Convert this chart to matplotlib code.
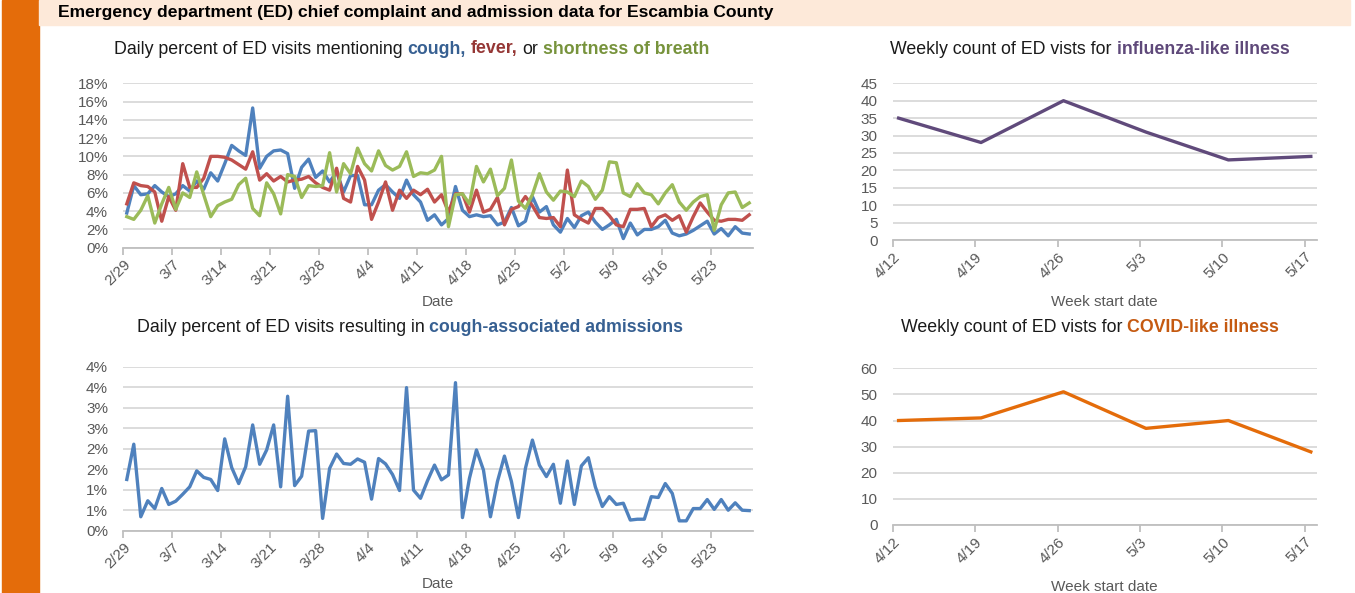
import matplotlib
matplotlib.use("Agg")
import matplotlib.pyplot as plt
from matplotlib.patches import Rectangle

W, H = 1355, 593

# daily series, 2/29 through 5/28 (percent of ED visits)
cough = [3.8, 6.8, 5.8, 5.9, 6.8, 6.1, 5.6, 5.9, 6.8, 6.2,
         7.3, 6.4, 8.2, 7.3, 9.2, 11.2, 10.6, 10.1, 15.3, 8.7,
         10.0, 10.6, 10.7, 10.3, 6.5, 8.8, 9.7, 7.7, 8.4, 7.2,
         8.3, 6.1, 7.9, 7.9, 4.7, 4.7, 6.3, 6.9, 6.1, 5.4,
         7.4, 5.8, 5.0, 3.0, 3.6, 2.5, 3.2, 6.7, 4.1, 3.4,
         3.6, 3.4, 3.5, 2.5, 2.8, 4.4, 2.4, 2.9, 5.6, 3.9,
         4.5, 2.5, 1.7, 3.2, 2.2, 3.5, 3.9, 2.8, 2.0, 2.5,
         3.1, 1.0, 2.7, 1.4, 2.0, 2.0, 2.3, 3.0, 1.6, 1.3,
         1.5, 1.9, 2.4, 2.9, 1.5, 2.1, 1.3, 2.3, 1.6, 1.5]
fever = [4.8, 7.1, 6.8, 6.7, 6.1, 2.9, 5.6, 4.1, 9.2, 6.6,
         6.6, 7.6, 10.0, 10.0, 9.9, 9.6, 9.1, 8.6, 10.5, 7.4,
         8.1, 7.3, 7.8, 7.2, 7.4, 7.5, 7.8, 7.1, 6.6, 6.3,
         8.7, 5.4, 5.0, 8.9, 7.4, 3.1, 5.0, 7.2, 4.1, 6.3,
         5.4, 6.3, 5.8, 6.4, 5.0, 5.8, 3.9, 5.9, 5.9, 3.9,
         6.3, 3.9, 4.2, 5.5, 2.5, 4.2, 4.5, 5.6, 4.6, 3.3,
         3.2, 3.3, 2.3, 8.5, 3.6, 3.1, 2.7, 4.3, 4.3, 3.5,
         2.5, 2.3, 4.2, 4.2, 4.3, 2.3, 3.3, 3.6, 3.0, 3.5,
         1.7, 3.4, 4.9, 3.9, 3.0, 2.9, 3.1, 3.1, 3.0, 3.6]
breath = [3.4, 3.1, 4.1, 5.7, 2.7, 4.8, 6.6, 4.2, 6.0, 5.5,
          8.3, 5.8, 3.4, 4.6, 5.0, 5.3, 6.9, 7.6, 4.3, 3.5,
          7.1, 5.9, 3.7, 8.0, 7.8, 5.5, 6.8, 6.7, 6.8, 10.4,
          6.1, 9.2, 8.1, 10.9, 9.2, 8.4, 10.6, 9.0, 8.5, 8.9,
          10.5, 7.8, 8.2, 8.1, 8.5, 10.0, 2.3, 5.8, 5.9, 4.8,
          8.9, 7.2, 8.6, 5.7, 6.5, 9.6, 5.1, 4.3, 5.8, 8.1,
          6.1, 5.2, 6.2, 6.1, 5.6, 7.3, 6.7, 5.3, 6.3, 9.4,
          9.3, 6.0, 5.6, 7.0, 6.0, 5.8, 4.8, 6.0, 6.9, 5.0,
          4.1, 5.0, 5.6, 5.8, 1.9, 4.7, 6.0, 6.1, 4.4, 4.9]
admissions = [1.25, 2.11, 0.34, 0.73, 0.54, 1.03, 0.64, 0.72, 0.89, 1.07,
              1.46, 1.30, 1.25, 0.98, 2.24, 1.54, 1.15, 1.56, 2.58, 1.62,
              1.97, 2.58, 1.07, 3.28, 1.10, 1.33, 2.43, 2.44, 0.30, 1.52,
              1.87, 1.64, 1.62, 1.75, 1.67, 0.77, 1.76, 1.63, 1.37, 0.98,
              3.49, 0.99, 0.79, 1.22, 1.60, 1.24, 1.36, 3.61, 0.32, 1.28,
              1.97, 1.48, 0.34, 1.20, 1.82, 1.20, 0.32, 1.52, 2.21, 1.60,
              1.32, 1.62, 0.67, 1.70, 0.64, 1.58, 1.78, 1.07, 0.59, 0.83,
              0.64, 0.67, 0.26, 0.28, 0.28, 0.83, 0.81, 1.15, 0.91, 0.24,
              0.24, 0.54, 0.54, 0.76, 0.52, 0.76, 0.50, 0.68, 0.50, 0.49]
day_labels = ["2/29", "3/7", "3/14", "3/21", "3/28", "4/4", "4/11",
              "4/18", "4/25", "5/2", "5/9", "5/16", "5/23"]

# weekly counts
weeks = ["4/12", "4/19", "4/26", "5/3", "5/10", "5/17"]
ili = [35, 28, 40, 31, 23, 24]
cli = [40, 41, 51, 37, 40, 28]

BLUE, RED, GREEN = "#4F81BD", "#C0504D", "#9BBB59"
PURPLE, ORANGE = "#604A7B", "#E46C0A"
GRAY = "#595959"
GRID = "#D9D9D9"

TITLE_FONT = ["Liberation Sans", "DejaVu Sans"]
TICK_FONT = ["Liberation Sans", "DejaVu Sans"]

fig = plt.figure(figsize=(W / 100, H / 100), dpi=100)
fig.patch.set_facecolor("white")

# left accent bar and header band
fig.patches.append(Rectangle((2 / W, 0), 37 / W, 1, transform=fig.transFigure,
                             color="#E46C0A", zorder=0))
fig.patches.append(Rectangle((39 / W, 1 - 25 / H), 1311 / W, 25 / H,
                             transform=fig.transFigure, color="#FDE9D9", zorder=0))
fig.text(58 / W, 1 - 13 / H,
         "Emergency department (ED) chief complaint and admission data for Escambia County",
         fontsize=12.6, fontweight="bold", family=TITLE_FONT, va="center", ha="left")


def make_axes(left, right, top, bottom):
    return fig.add_axes([left / W, 1 - bottom / H, (right - left) / W, (bottom - top) / H])


def style(ax, ymax, ystep, fmt):
    ticks = [i * ystep for i in range(int(round(ymax / ystep)) + 1)]
    ax.set_ylim(0, ymax)
    ax.set_yticks(ticks)
    ax.set_yticklabels([fmt(t) for t in ticks], family=TICK_FONT, fontsize=11, color=GRAY)
    ax.grid(axis="y", color=GRID, linewidth=1.3)
    ax.set_axisbelow(True)
    for s in ["left", "right", "top"]:
        ax.spines[s].set_visible(False)
    ax.spines["bottom"].set_color("#BFBFBF")
    ax.spines["bottom"].set_linewidth(1.3)
    ax.tick_params(axis="y", length=0, pad=11)
    ax.tick_params(axis="x", length=5, color="#BFBFBF", width=1.3, pad=2)


def set_xticks(ax, positions, labels, xmax):
    ax.set_xlim(0, xmax)
    ax.set_xticks(positions)
    ax.set_xticklabels(labels, rotation=45, ha="right", va="top", rotation_mode="anchor",
                       family=TICK_FONT, fontsize=11, color=GRAY)


def rich_title(xc, y, parts, size=12.8):
    # place coloured runs of text side by side, centred on xc (pixels from left)
    renderer = fig.canvas.get_renderer()
    probe1 = fig.text(0, 0, "x x", fontsize=size, family=TITLE_FONT)
    probe2 = fig.text(0, 0, "xx", fontsize=size, family=TITLE_FONT)
    space = probe1.get_window_extent(renderer).width - probe2.get_window_extent(renderer).width
    probe1.remove()
    probe2.remove()
    items = []
    total = 0
    for s, color, weight, gap in parts:
        t = fig.text(0, 1 - y / H, s, fontsize=size, family=TITLE_FONT, color=color,
                     fontweight=weight, va="center", ha="left")
        w = t.get_window_extent(renderer).width
        items.append((t, w, gap))
        total += w + (space if gap else 0)
    x = xc - total / 2
    for t, w, gap in items:
        t.set_x(x / W)
        x += w + (space if gap else 0)


pct = lambda v: "%d%%" % int(v + 0.5)
days = [i + 0.5 for i in range(len(cough))]
day_ticks = [7 * i for i in range(len(day_labels))]

# top left: symptom mentions
ax1 = make_axes(123.3, 752.7, 83.3, 247.7)
style(ax1, 18, 2, pct)
ax1.plot(days, cough, color=BLUE, lw=2.4, solid_joinstyle="round")
ax1.plot(days, fever, color=RED, lw=2.4, solid_joinstyle="round")
ax1.plot(days, breath, color=GREEN, lw=2.4, solid_joinstyle="round")
set_xticks(ax1, day_ticks, day_labels, len(cough))
ax1.set_xlabel("Date", family=TICK_FONT, fontsize=11, color=GRAY, labelpad=4.5)
rich_title(412, 49, [("Daily percent of ED visits mentioning", "#1A1A1A", "normal", True),
                     ("cough,", "#376092", "bold", True),
                     ("fever,", "#953735", "bold", True),
                     ("or", "#1A1A1A", "normal", True),
                     ("shortness of breath", "#77933C", "bold", False)])

# bottom left: cough-associated admissions
ax2 = make_axes(123.3, 752.7, 366.7, 530.7)
style(ax2, 4, 0.5, pct)
ax2.plot(days, admissions, color=BLUE, lw=2.4, solid_joinstyle="round")
set_xticks(ax2, day_ticks, day_labels, len(admissions))
ax2.set_xlabel("Date", family=TICK_FONT, fontsize=11, color=GRAY, labelpad=4)
rich_title(410, 327, [("Daily percent of ED visits resulting in", "#1A1A1A", "normal", True),
                      ("cough-associated admissions", "#376092", "bold", False)])

week_x = [7 * i + 0.5 for i in range(len(weeks))]
week_ticks = [7 * i for i in range(len(weeks))]

# top right: influenza-like illness
ax3 = make_axes(892.7, 1316.7, 83.3, 240)
style(ax3, 45, 5, lambda v: "%d" % v)
ax3.plot(week_x, ili, color=PURPLE, lw=2.4, solid_joinstyle="round")
set_xticks(ax3, week_ticks, weeks, 36)
ax3.set_xlabel("Week start date", family=TICK_FONT, fontsize=11, color=GRAY, labelpad=10)
rich_title(1090, 50, [("Weekly count of ED vists for", "#1A1A1A", "normal", True),
                      ("influenza-like illness", "#5F497A", "bold", False)])

# bottom right: COVID-like illness
ax4 = make_axes(892.7, 1316.7, 368.3, 525)
style(ax4, 60, 10, lambda v: "%d" % v)
ax4.plot(week_x, cli, color=ORANGE, lw=2.4, solid_joinstyle="round")
set_xticks(ax4, week_ticks, weeks, 36)
ax4.set_xlabel("Week start date", family=TICK_FONT, fontsize=11, color=GRAY, labelpad=10)
rich_title(1090, 327, [("Weekly count of ED vists for", "#1A1A1A", "normal", True),
                       ("COVID-like illness", "#C55A11", "bold", False)])

fig.savefig("out.png", dpi=100)
